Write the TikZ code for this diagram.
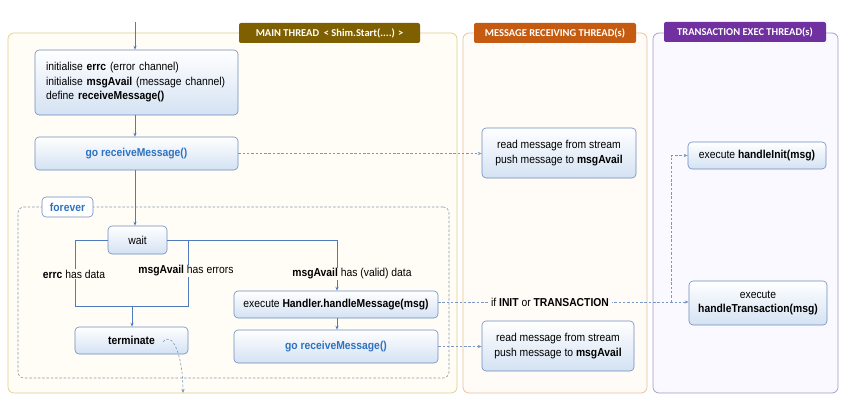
\documentclass[tikz,border=0pt]{standalone}
\usepackage{fontspec}
\setmainfont{Liberation Sans}[FakeStretch=0.9]
\newfontfamily\lblfont{Carlito}
\usetikzlibrary{arrows.meta,calc}
\definecolor{mainbd}{HTML}{E2CE8C}
\definecolor{mainbg}{HTML}{FFFDF6}
\definecolor{mainlb}{HTML}{7F6000}
\definecolor{mrtbd}{HTML}{E9BE98}
\definecolor{mrtbg}{HTML}{FFFBF7}
\definecolor{mrtlb}{HTML}{C55A11}
\definecolor{tebd}{HTML}{A697C8}
\definecolor{tebg}{HTML}{FAF9FF}
\definecolor{telb}{HTML}{7030A0}
\definecolor{arr}{HTML}{4F7BBE}
\definecolor{dsh}{HTML}{7B97C4}
\definecolor{boxbd}{HTML}{6E8DBD}
\definecolor{boxbot}{HTML}{D4E2F3}
\definecolor{bluetx}{HTML}{2E72C0}
\definecolor{frvbd}{HTML}{8A98AE}
\tikzset{
  panel/.style={draw, rounded corners=6pt, line width=0.7pt, inner sep=0pt},
  hdr/.style={rounded corners=2pt, inner sep=0pt, text=white, font=\lblfont\bfseries\fontsize{10.5}{12}\selectfont},
  pbox/.style={draw=boxbd, line width=0.6pt, rounded corners=4pt, top color=white, bottom color=boxbot, inner sep=0pt, font=\fontsize{11.5}{14.5}\selectfont, align=center},
  flow/.style={draw=arr, line width=0.7pt, -{Stealth[length=4pt,width=3.2pt]}},
  line/.style={draw=arr, line width=0.7pt},
  dflow/.style={draw=dsh, line width=0.6pt, dash pattern=on 2.5pt off 1.8pt, -{Stealth[length=4pt,width=3.2pt]}},
  lbl/.style={inner sep=1pt, font=\fontsize{11.5}{14.5}\selectfont}
}
\begin{document}
\begin{tikzpicture}[x=1pt,y=-1pt]
\useasboundingbox (0,0) rectangle (856,412);
\fill[white] (0,0) rectangle (856,412);
% panels
\node[panel, draw=mainbd, fill=mainbg, minimum width=449, minimum height=360] (mainp) at (232.5,213) {};
\node[panel, draw=mrtbd, fill=mrtbg, minimum width=184, minimum height=360] (mrtp) at (555,213) {};
\node[panel, draw=tebd, fill=tebg, minimum width=185, minimum height=360] (tep) at (745.5,213) {};
\node[hdr, fill=mainlb, minimum width=181, minimum height=20] (mainh) at (329.5,33) {MAIN THREAD\ \ < Shim.Start(....) >};
\node[hdr, fill=mrtlb, minimum width=162, minimum height=20] (mrth) at (555,33) {MESSAGE RECEIVING THREAD(s)};
\node[hdr, fill=telb, minimum width=162, minimum height=20] (teh) at (745,32) {TRANSACTION EXEC THREAD(s)};
% forever loop
\node[draw=frvbd, line width=0.6pt, dash pattern=on 2.5pt off 1.8pt, rounded corners=6pt, minimum width=431, minimum height=171, inner sep=0pt] (loop) at (233.5,292.5) {};
\node[draw=boxbd, fill=white, line width=0.6pt, rounded corners=4pt, minimum width=51, minimum height=20, inner sep=0pt, font=\bfseries\fontsize{11.5}{14.5}\selectfont, text=bluetx] (forever) at (67.5,207) {forever};
% boxes
\coordinate (start) at (135,22);
\node[pbox, minimum width=203, minimum height=65, text width=181, align=left] (init) at (136.5,82.5) {initialise \textbf{errc} (error channel)\\initialise \textbf{msgAvail} (message channel)\\define \textbf{receiveMessage()}};
\node[pbox, minimum width=203, minimum height=33] (go1) at (136.5,153.5) {\textbf{\textcolor{bluetx}{go receiveMessage()}}};
\node[pbox, minimum width=59, minimum height=28] (wait) at (137.5,240) {wait};
\node[pbox, minimum width=113, minimum height=27] (term) at (131.5,340.5) {\textbf{terminate}};
\node[pbox, minimum width=204, minimum height=27] (handler) at (336,304.5) {execute \textbf{Handler.handleMessage(msg)}};
\node[pbox, minimum width=204, minimum height=33] (go2) at (336,346.5) {\textbf{\textcolor{bluetx}{go receiveMessage()}}};
\node[pbox, minimum width=154, minimum height=50] (mrt1) at (559,153) {read message from stream\\push message to \textbf{msgAvail}};
\node[pbox, minimum width=152, minimum height=50] (mrt2) at (558,346) {read message from stream\\push message to \textbf{msgAvail}};
\node[pbox, minimum width=138, minimum height=27] (te1) at (757,155.5) {execute \textbf{handleInit(msg)}};
\node[pbox, minimum width=138, minimum height=44] (te2) at (758,303) {execute\\\textbf{handleTransaction(msg)}};
% solid flow
\draw[flow] (start) -- (start |- init.north);
\draw[flow] (start |- init.south) -- (start |- go1.north);
\draw[flow] (start |- go1.south) -- (start |- wait.north);
\coordinate (jl) at (75,240);
\coordinate (jr) at (188,240);
\coordinate (jd) at (337,240);
\coordinate (jbl) at (75,306);
\coordinate (jbr) at (188,306);
\coordinate (jm) at (132,306);
\draw[line] (wait.west |- jl) -- (jl) -- (jbl) -- (jbr) -- (jr);
\draw[flow] (wait.east |- jr) -- (jd) -- (jd |- handler.north);
\draw[flow] (jm) -- (jm |- term.north);
\draw[flow] (jd |- handler.south) -- (jd |- go2.north);
\node[lbl, fill=mainbg] (l1) at (74,274) {\textbf{errc} has data};
\node[lbl, fill=mainbg] (l2) at (186,271) {\textbf{msgAvail} has errors};
\node[lbl, fill=mainbg] (l3) at (352,274) {\textbf{msgAvail} has (valid) data};
% dashed flow
\draw[dflow] (go1.east) -- (mrt1.west |- go1.east);
\draw[dflow] (go2.east) -- (mrt2.west |- go2.east);
\coordinate (tv) at (671,302);
\coordinate (hd) at (438,302);
\draw[dflow] (hd) -- (te2.west |- hd);
\draw[dflow] (tv) -- (tv |- te1.west) -- (te1.west);
\node[lbl, fill=mrtbg, inner xsep=3pt] (cond) at (550,302) {if \textbf{INIT} or \textbf{TRANSACTION}};
\coordinate (tstart) at (163,342);
\coordinate (tend) at (183,393);
\draw[dflow] (tstart) .. controls (172,330) and (183,355) .. (tend);
\end{tikzpicture}
\end{document}
